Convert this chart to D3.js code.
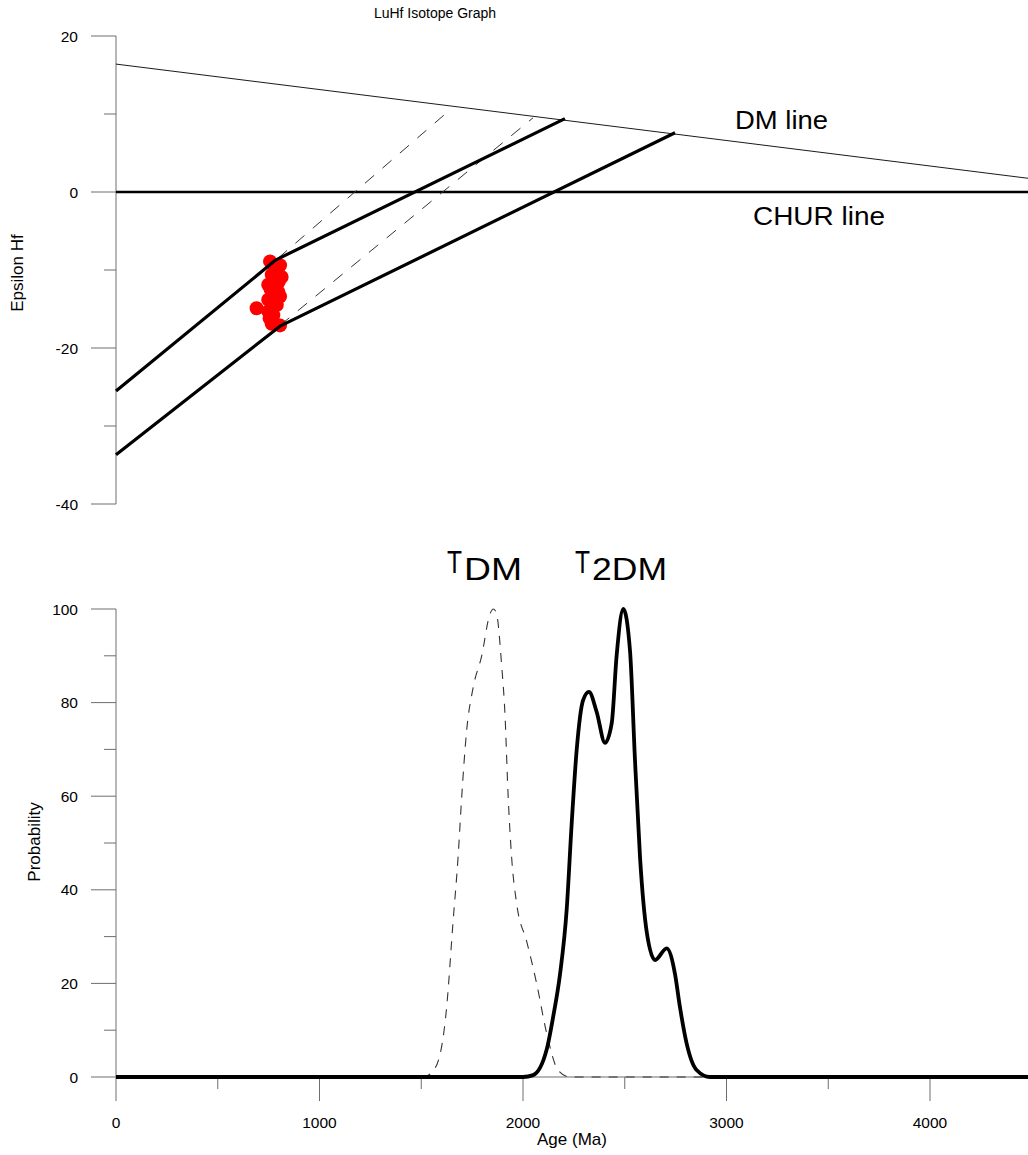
<!DOCTYPE html>
<html>
<head>
<meta charset="utf-8">
<script src="https://cdn.jsdelivr.net/npm/d3@7"></script>
<style>
  body { margin: 0; background: #fff; }
  svg { display: block; font-family: Arial, "Liberation Sans", sans-serif; }
</style>
</head>
<body>
<svg id="chart" width="1028" height="1155"></svg>
<script>
// ---------- data ----------
const title = "LuHf Isotope Graph";
const epsTicks = [20, 0, -20, -40];
const epsMinorTicks = [10, -10, -30];
const probTicks = [0, 20, 40, 60, 80, 100];
const probMinorTicks = [10, 30, 50, 70, 90];
const ageTicks = [0, 1000, 2000, 3000, 4000];
const ageMinorTicks = [500, 1500, 2500, 3500];

// samples: [age Ma, epsilon Hf]
const samples = [
  [757, -8.9], [806, -9.4], [780, -9.8], [790, -10.2], [814, -10.9], [765, -10.6],
  [800, -11.5], [748, -11.9], [760, -12.5], [798, -12.8], [806, -13.4], [748, -13.8],
  [765, -14.1], [790, -14.5], [691, -14.9], [748, -15.3], [773, -15.8], [755, -16.2],
  [765, -16.9], [806, -17.1]
];
// reference lines [age, eps]
const dmLine = [[0, 16.4], [4500, 1.7]];
const churLine = [[0, 0], [4500, 0]];
// crustal evolution (T2DM) lines
const evolUpper = [[0, -25.5], [786, -8.7], [2206, 9.4]];
const evolLower = [[0, -33.7], [806, -17.2], [2747, 7.6]];
// TDM model lines (dashed)
const tdmUpper = [[796, -8.5], [1640, 10.5]];
const tdmLower = [[806, -17.1], [2049, 9.5]];

// probability curves [age, probability]
const tdmAges = [0, 1510, 1568, 1625, 1656, 1681, 1699, 1723, 1754, 1797, 1838, 1855, 1870, 1895, 1912, 1926, 1944, 1969, 2018, 2067, 2116, 2172, 2230, 4500];
const tdmProb = [0, 0, 1.9, 15, 33, 47, 60, 74, 83, 90, 99, 100, 99, 88, 77, 61, 47, 37, 29, 20, 9.4, 1.5, 0, 0];
const t2dmAges = [0, 2000, 2050, 2116, 2148, 2182, 2215, 2239, 2264, 2295, 2324, 2362, 2403, 2436, 2460, 2493, 2526, 2550, 2575, 2608, 2649, 2706, 2747, 2771, 2804, 2853, 2919, 4500];
const t2dmProb = [0, 0, 0.4, 5.8, 12.8, 22, 36, 54, 70, 80.5, 82.3, 78, 71.4, 75.6, 90, 100, 91, 68, 47, 31, 25, 27.5, 22, 15, 7.2, 1.5, 0, 0];

// ---------- scales ----------
const svg = d3.select("#chart");
const x = d3.scaleLinear().domain([0, 4500]).range([116, 116 + 4500 * 0.2035]);
const yE = d3.scaleLinear().domain([-40, 20]).range([504, 36]);
const yP = d3.scaleLinear().domain([0, 100]).range([1077, 609]);

const axisColor = "#6e6e6e";

// ---------- title ----------
svg.append("text").attr("x", 435).attr("y", 18).attr("text-anchor", "middle")
  .attr("font-size", 14).text(title);

// ---------- left axes ----------
function leftAxis(scale, major, minor, label, labelX, labelY) {
  const g = svg.append("g");
  const dom = scale.domain();
  g.append("line").attr("x1", 116).attr("x2", 116)
    .attr("y1", scale(dom[0])).attr("y2", scale(dom[1]))
    .attr("stroke", axisColor).attr("stroke-width", 1);
  major.forEach(v => {
    g.append("line").attr("x1", 91).attr("x2", 116).attr("y1", scale(v)).attr("y2", scale(v))
      .attr("stroke", axisColor);
    g.append("text").attr("x", 78).attr("y", scale(v) + 5.5).attr("text-anchor", "end")
      .attr("font-size", 15.5).text(v);
  });
  minor.forEach(v => {
    g.append("line").attr("x1", 104).attr("x2", 116).attr("y1", scale(v)).attr("y2", scale(v))
      .attr("stroke", axisColor);
  });
  g.append("text").attr("transform", `translate(${labelX},${labelY}) rotate(-90)`)
    .attr("text-anchor", "middle").attr("font-size", 17).text(label);
}
leftAxis(yE, epsTicks, epsMinorTicks, "Epsilon Hf", 23, 273);
leftAxis(yP, probTicks, probMinorTicks, "Probability", 40, 842);

// ---------- bottom x axis ----------
const gx = svg.append("g");
gx.append("line").attr("x1", x(0)).attr("x2", 1028).attr("y1", yP(0)).attr("y2", yP(0))
  .attr("stroke", axisColor);
ageTicks.forEach(v => {
  gx.append("line").attr("x1", x(v)).attr("x2", x(v)).attr("y1", yP(0)).attr("y2", yP(0) + 24)
    .attr("stroke", axisColor);
  gx.append("text").attr("x", x(v)).attr("y", 1128).attr("text-anchor", "middle")
    .attr("font-size", 15.5).text(v);
});
ageMinorTicks.forEach(v => {
  gx.append("line").attr("x1", x(v)).attr("x2", x(v)).attr("y1", yP(0)).attr("y2", yP(0) + 12)
    .attr("stroke", axisColor);
});
gx.append("text").attr("x", 572).attr("y", 1145).attr("text-anchor", "middle")
  .attr("font-size", 17).text("Age (Ma)");

// ---------- top plot ----------
const lineE = d3.line().x(d => x(d[0])).y(d => yE(d[1]));
const gTop = svg.append("g");
gTop.append("path").attr("d", lineE(dmLine)).attr("fill", "none").attr("stroke", "#000").attr("stroke-width", 0.9);
gTop.append("path").attr("d", lineE(churLine)).attr("fill", "none").attr("stroke", "#000").attr("stroke-width", 2.6);

gTop.selectAll("circle.s").data(samples).join("circle")
  .attr("cx", d => x(d[0])).attr("cy", d => yE(d[1])).attr("r", 7).attr("fill", "#ff0000");

[tdmUpper, tdmLower].forEach(l => {
  gTop.append("path").attr("d", lineE(l)).attr("fill", "none").attr("stroke", "#333")
    .attr("stroke-width", 1).attr("stroke-dasharray", "12,11");
});
[evolUpper, evolLower].forEach(l => {
  gTop.append("path").attr("d", lineE(l)).attr("fill", "none").attr("stroke", "#000")
    .attr("stroke-width", 3.2).attr("stroke-linejoin", "round");
});

gTop.append("text").attr("x", 735).attr("y", 129).attr("font-size", 25)
  .attr("textLength", 93).attr("lengthAdjust", "spacingAndGlyphs").text("DM line");
gTop.append("text").attr("x", 753).attr("y", 225).attr("font-size", 25)
  .attr("textLength", 132).attr("lengthAdjust", "spacingAndGlyphs").text("CHUR line");

// ---------- bottom plot ----------
const lineP = d3.line().x(d => x(d[0])).y(d => yP(d[1])).curve(d3.curveMonotoneX);
const tdmData = tdmAges.map((a, i) => [a, tdmProb[i]]);
const t2dmData = t2dmAges.map((a, i) => [a, t2dmProb[i]]);
svg.append("path").attr("d", lineP(tdmData)).attr("fill", "none").attr("stroke", "#333")
  .attr("stroke-width", 1.1).attr("stroke-dasharray", "9,8");
svg.append("path").attr("d", lineP(t2dmData)).attr("fill", "none").attr("stroke", "#000")
  .attr("stroke-width", 3.8).attr("stroke-linejoin", "round");

// labels T_DM and T_2DM
function tLabel(xPos, sub, subX, subLen) {
  svg.append("text").attr("x", xPos).attr("y", 573).attr("font-size", 31)
    .attr("textLength", 15).attr("lengthAdjust", "spacingAndGlyphs").text("T");
  svg.append("text").attr("x", subX).attr("y", 580).attr("font-size", 31)
    .attr("textLength", subLen).attr("lengthAdjust", "spacingAndGlyphs").text(sub);
}
tLabel(447, "DM", 464, 58);
tLabel(575, "2DM", 592, 75);
</script>
</body>
</html>
